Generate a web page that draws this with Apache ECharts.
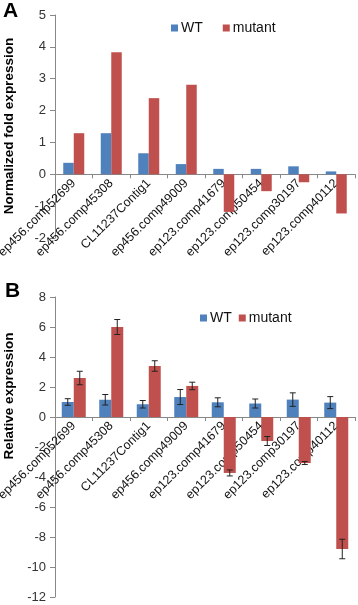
<!DOCTYPE html>
<html>
<head>
<meta charset="utf-8">
<script src="https://cdn.jsdelivr.net/npm/echarts@6/dist/echarts.min.js"></script>
<style>
  html, body { margin: 0; padding: 0; background: #fff; }
  #chart { width: 358px; height: 605px; }
</style>
</head>
<body>
<div id="chart"></div>
<script>
  // categories shared by both panels
  var genes = ['ep456.comp52699', 'ep456.comp45308', 'CL11237Contig1', 'ep456.comp49009',
    'ep123.comp41679', 'ep123.comp50454', 'ep123.comp30197', 'ep123.comp40112'];

  // panel A - normalized fold expression
  var foldWT = [0.36, 1.29, 0.66, 0.32, 0.17, 0.17, 0.25, 0.09];
  var foldMutant = [1.29, 3.83, 2.39, 2.81, -1.18, -0.53, -0.25, -1.23];

  // panel B - relative expression + error
  var relWT = [1.0, 1.15, 0.85, 1.33, 0.98, 0.9, 1.16, 0.96];
  var relWTErr = [0.22, 0.35, 0.25, 0.5, 0.3, 0.3, 0.45, 0.4];
  var relMutant = [2.6, 6.0, 3.4, 2.07, -3.73, -1.6, -3.07, -8.8];
  var relMutantErr = [0.45, 0.5, 0.35, 0.25, 0.2, 0.3, 0.1, 0.65];

  var blue = '#4F81BD';
  var red = '#C0504D';
  var font = 'Liberation Sans, Arial, sans-serif';

  // grid boxes
  var gA = { left: 55, top: 15, width: 300, height: 223, min: -2, max: 5 };
  var gB = { left: 55, top: 297, width: 300, height: 300, min: -12, max: 8 };

  var chart = echarts.init(document.getElementById('chart'));

  function errData(vals, errs) {
    return vals.map(function (v, i) { return [i, v, errs[i]]; });
  }

  // error bars drawn through the axis scale, shifted to the bar centre
  function errRender(shift) {
    return function (params, api) {
      var i = api.value(0), v = api.value(1), e = api.value(2);
      var hi = api.coord([i, v + e]);
      var lo = api.coord([i, v - e]);
      var x = hi[0] + shift;
      var cap = 3;
      var st = { stroke: '#222', lineWidth: 1 };
      return {
        type: 'group',
        children: [
          { type: 'line', shape: { x1: x, y1: hi[1], x2: x, y2: lo[1] }, style: st },
          { type: 'line', shape: { x1: x - cap, y1: hi[1], x2: x + cap, y2: hi[1] }, style: st },
          { type: 'line', shape: { x1: x - cap, y1: lo[1], x2: x + cap, y2: lo[1] }, style: st }
        ]
      };
    };
  }

  // category axis lifted from the grid bottom up to the zero line
  function xAxisCfg(idx, g) {
    var zeroOffset = g.height * (-g.min) / (g.max - g.min);
    return {
      type: 'category',
      gridIndex: idx,
      data: genes,
      offset: -zeroOffset,
      axisLine: { onZero: false, lineStyle: { color: '#888' } },
      axisTick: { show: true, interval: 0, length: 4, lineStyle: { color: '#888' } },
      axisLabel: { interval: 0, rotate: 45, fontSize: 12.5, color: '#111', fontFamily: font, margin: 7 },
      splitLine: { show: false }
    };
  }

  function yAxisCfg(idx, g, step) {
    return {
      type: 'value',
      gridIndex: idx,
      min: g.min,
      max: g.max,
      interval: step,
      axisLine: { show: true, lineStyle: { color: '#888' } },
      axisTick: { show: true, length: 5, lineStyle: { color: '#888' } },
      axisLabel: { fontSize: 13, color: '#333', fontFamily: font, margin: 9 },
      splitLine: { show: false }
    };
  }

  var option = {
    animation: false,
    backgroundColor: '#fff',
    grid: [
      { left: gA.left, top: gA.top, width: gA.width, height: gA.height, containLabel: false, outerBoundsMode: 'none' },
      { left: gB.left, top: gB.top, width: gB.width, height: gB.height, containLabel: false, outerBoundsMode: 'none' }
    ],
    legend: [
      {
        data: ['WT', 'mutant'], left: 166, top: 16, icon: 'rect',
        itemWidth: 7, itemHeight: 7, itemGap: 20,
        textStyle: { fontSize: 14, color: '#111', fontFamily: font, padding: [0, 0, 0, -2] }
      },
      {
        data: ['WT', 'mutant'], left: 195, top: 306, icon: 'rect',
        itemWidth: 7, itemHeight: 7, itemGap: 7,
        textStyle: { fontSize: 14, color: '#111', fontFamily: font, padding: [0, 0, 0, -2] }
      }
    ],
    xAxis: [xAxisCfg(0, gA), xAxisCfg(1, gB)],
    yAxis: [yAxisCfg(0, gA, 1), yAxisCfg(1, gB, 2)],
    graphic: [
      { type: 'text', left: 3, top: 1, style: { text: 'A', font: 'bold 21px ' + font, fill: '#000' } },
      { type: 'text', left: 5, top: 281, style: { text: 'B', font: 'bold 21px ' + font, fill: '#000' } },
      {
        type: 'text', x: 9, y: 126, rotation: Math.PI / 2,
        style: { text: 'Normalized fold expression', font: 'bold 13.5px ' + font, fill: '#000', align: 'center', verticalAlign: 'middle' }
      },
      {
        type: 'text', x: 9, y: 396, rotation: Math.PI / 2,
        style: { text: 'Relative expression', font: 'bold 13.5px ' + font, fill: '#000', align: 'center', verticalAlign: 'middle' }
      }
    ],
    series: [
      { name: 'WT', type: 'bar', xAxisIndex: 0, yAxisIndex: 0, data: foldWT, barWidth: 10.5, barGap: 0, itemStyle: { color: blue } },
      { name: 'mutant', type: 'bar', xAxisIndex: 0, yAxisIndex: 0, data: foldMutant, barWidth: 10.5, barGap: 0, itemStyle: { color: red } },
      { name: 'WT', type: 'bar', xAxisIndex: 1, yAxisIndex: 1, data: relWT, barWidth: 12, barGap: 0, itemStyle: { color: blue } },
      { name: 'mutant', type: 'bar', xAxisIndex: 1, yAxisIndex: 1, data: relMutant, barWidth: 12, barGap: 0, itemStyle: { color: red } },
      {
        name: 'WT err', type: 'custom', xAxisIndex: 1, yAxisIndex: 1, z: 5,
        data: errData(relWT, relWTErr), encode: { x: 0, y: 1 }, renderItem: errRender(-6)
      },
      {
        name: 'mutant err', type: 'custom', xAxisIndex: 1, yAxisIndex: 1, z: 5,
        data: errData(relMutant, relMutantErr), encode: { x: 0, y: 1 }, renderItem: errRender(6)
      }
    ]
  };

  chart.setOption(option);
</script>
</body>
</html>
